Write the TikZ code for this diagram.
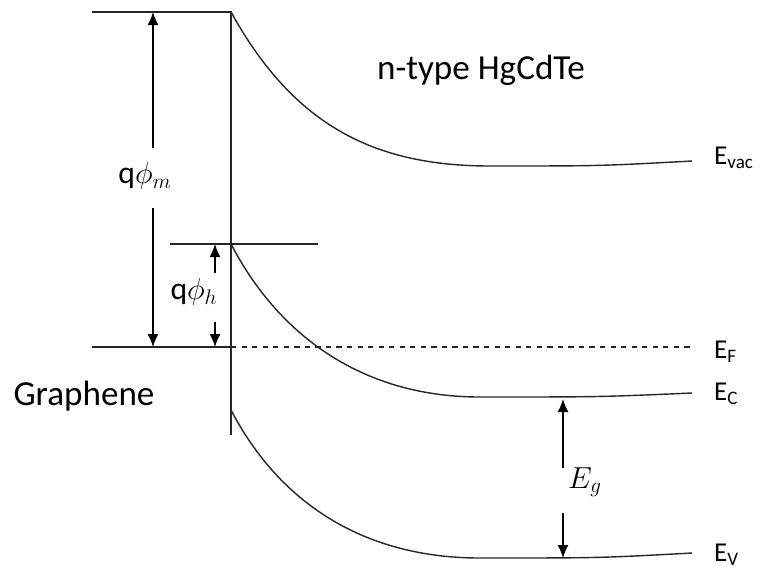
\documentclass[tikz,border=0pt]{standalone}
\usepackage{fontspec}
\setmainfont{Carlito}
\usepackage{tikz}
\usetikzlibrary{arrows.meta,positioning}

\begin{document}
\begin{tikzpicture}[
    x=0.02cm, y=-0.02cm,
    every node/.style={font=\fontsize{20}{24}\selectfont, inner sep=1pt},
    band/.style={line width=0.8pt, black!85},
    arr/.style={-{Latex[length=2.6mm, width=2.2mm]}, line width=0.8pt},
    lvl/.style={anchor=west, font=\fontsize{15.5}{18}\selectfont},
    sym/.style={inner sep=0pt, font=\fontsize{18}{21}\selectfont},
  ]
    \useasboundingbox (0,0) rectangle (760,569);

    % corner points of the bands
    \coordinate (mtop) at (92,12);
    \coordinate (vac0) at (231,12);
    \coordinate (bar0) at (231,244);
    \coordinate (fl0) at (92,347);
    \coordinate (fl1) at (231,347);
    \coordinate (val0) at (231,410);
    \coordinate (wall) at (231,435);
    \coordinate (vacR) at (692,161);
    \coordinate (flR) at (692,347);
    \coordinate (conR) at (692,393);
    \coordinate (valR) at (692,553);

    % metal side and interface
    \draw[band] (mtop) -- (vac0) -- (wall);
    \draw[band] (fl0) -- (fl1);
    \draw[band] (170,244) coordinate (barL) -- (318,244) coordinate (barR);
    \draw[band, dashed] (fl1) -- (flR);

    % bent bands in the semiconductor
    \draw[band] (vac0) .. controls (292,122) and (370,166) .. (490,166)
                       .. controls (600,166) .. (vacR);
    \draw[band] (bar0) .. controls (280,338) and (365,397) .. (480,397)
                       .. controls (600,397) .. (conR);
    \draw[band] (val0) .. controls (280,504) and (365,558) .. (480,558)
                       .. controls (600,558) .. (valR);

    % level names
    \node[lvl] (evac) at (712,158) {E\textsubscript{vac}};
    \node[lvl] (ef) at (712,352) {E\textsubscript{F}};
    \node[lvl] (ec) at (712,394) {E\textsubscript{C}};
    \node[lvl] (ev) at (712,555) {E\textsubscript{V}};

    \node (semi) at (481,70) {n-type HgCdTe};
    \node (metal) at (84,396) {Graphene};

    % barrier heights and gap
    \node[sym] (phim) at (145,176) {q$\phi_m$};
    \coordinate (mA1) at (153,148);
    \coordinate (mA2) at (153,208);
    \draw[arr] (mA1) -- (153,12) coordinate (mtopA);
    \draw[arr] (mA2) -- (153,347) coordinate (mbotA);

    \node[sym] (phih) at (194,292) {q$\phi_h$};
    \coordinate (hA1) at (215,273);
    \coordinate (hA2) at (215,322);
    \draw[arr] (hA1) -- (215,244) coordinate (htopA);
    \draw[arr] (hA2) -- (215,347) coordinate (hbotA);

    \node[sym] (eg) at (585,482) {$E_g$};
    \coordinate (gA1) at (563,468);
    \coordinate (gA2) at (563,513);
    \draw[arr] (gA1) -- (563,399) coordinate (gtopA);
    \draw[arr] (gA2) -- (563,558) coordinate (gbotA);
  \end{tikzpicture}
\end{document}
